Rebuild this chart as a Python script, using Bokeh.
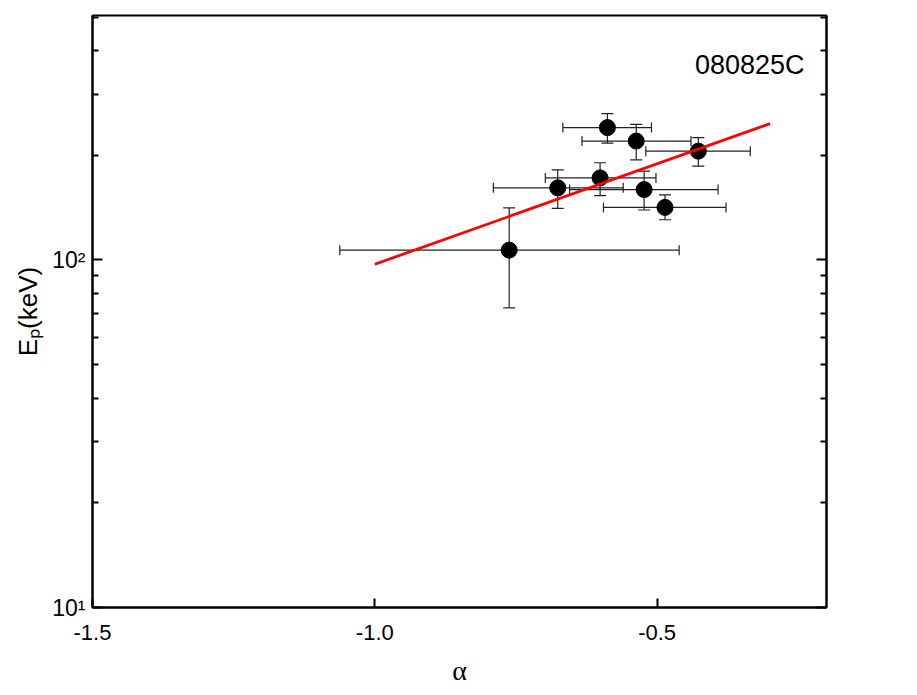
from bokeh.plotting import figure
from bokeh.models import (ColumnDataSource, Whisker, TeeHead, FixedTicker, LogAxis, Label, Range1d)
from bokeh.embed import file_html
from bokeh.resources import INLINE

# ---- data ----
alpha = [-0.762, -0.676, -0.601, -0.588, -0.537, -0.523, -0.486, -0.427]
alpha_lo = [-1.062, -0.790, -0.698, -0.667, -0.633, -0.655, -0.595, -0.520]
alpha_hi = [-0.461, -0.560, -0.502, -0.510, -0.440, -0.392, -0.378, -0.335]
ep = [106.7, 161.2, 172.2, 240.3, 219.8, 159.4, 141.6, 205.6]
ep_lo = [72.8, 140.7, 153.1, 216.9, 194.1, 139.2, 130.5, 186.1]
ep_hi = [141.1, 181.6, 190.4, 263.7, 245.5, 180.0, 153.8, 224.8]
fit_alpha = [-1.0, -0.3]
fit_ep = [97.2, 246.7]
x_ticks = [-1.5, -1.0, -0.5]
x_tick_labels = ["-1.5", "-1.0", "-0.5"]
y_ticks = [10, 100]
y_tick_labels = ["10\u00b9", "10\u00b2"]
y_minor = [20, 30, 40, 50, 60, 70, 80, 90, 200, 300, 400, 500]
grb_name = "080825C"
x_label = "\u03b1"
y_label = "E\u209a(keV)"

src = ColumnDataSource(dict(x=alpha, xlo=alpha_lo, xhi=alpha_hi, y=ep, ylo=ep_lo, yhi=ep_hi))

p = figure(width=886, height=691, y_axis_type="log",
           x_range=Range1d(-1.5, -0.2), y_range=Range1d(10, 505),
           output_backend="svg", toolbar_location=None,
           min_border_left=92, min_border_right=60, min_border_top=15, min_border_bottom=84)
p.background_fill_color = "white"
p.border_fill_color = "white"
p.grid.visible = False
p.outline_line_color = "black"
p.outline_line_width = 2

FONT = "Liberation Sans"

# x axis
xa = p.xaxis[0]
xa.ticker = FixedTicker(ticks=x_ticks, minor_ticks=[])
xa.major_label_overrides = {t: l for t, l in zip(x_ticks, x_tick_labels)}
xa.major_tick_in = 9
xa.major_tick_out = 0
xa.minor_tick_in = 0
xa.minor_tick_out = 0
xa.axis_line_width = 2
xa.major_tick_line_width = 2
xa.major_label_text_font = FONT
xa.major_label_text_font_size = "22px"
xa.major_label_text_color = "black"
xa.major_label_standoff = 17
xa.axis_label = x_label
xa.axis_label_text_font = "Liberation Serif"
xa.axis_label_text_font_size = "28px"
xa.axis_label_text_font_style = "normal"
xa.axis_label_text_color = "black"
xa.axis_label_standoff = 12

# y axis (left)
ya = p.yaxis[0]
ya.ticker = FixedTicker(ticks=y_ticks, minor_ticks=y_minor)
ya.major_label_overrides = {t: l for t, l in zip(y_ticks, y_tick_labels)}
ya.major_tick_in = 10
ya.major_tick_out = 0
ya.minor_tick_in = 6
ya.minor_tick_out = 0
ya.axis_line_width = 2
ya.major_tick_line_width = 2
ya.minor_tick_line_width = 2
ya.major_label_text_font = FONT
ya.major_label_text_font_size = "23px"
ya.major_label_text_color = "black"
ya.major_label_standoff = 7
ya.axis_label = y_label
ya.axis_label_text_font = FONT
ya.axis_label_text_font_size = "26px"
ya.axis_label_text_font_style = "normal"
ya.axis_label_text_color = "black"
ya.axis_label_standoff = 6

# y axis (right) - ticks only
ra = LogAxis(ticker=FixedTicker(ticks=y_ticks, minor_ticks=y_minor))
ra.major_label_text_alpha = 0
ra.major_label_text_font_size = "1px"
ra.major_tick_in = 10
ra.major_tick_out = 0
ra.minor_tick_in = 6
ra.minor_tick_out = 0
ra.axis_line_width = 2
ra.major_tick_line_width = 2
ra.minor_tick_line_width = 2
p.add_layout(ra, "right")

# error bars
ec = "#222222"
p.add_layout(Whisker(source=src, base="y", lower="xlo", upper="xhi", dimension="width",
                     line_color=ec, line_width=1.2,
                     upper_head=TeeHead(size=10, line_color=ec, line_width=1.2),
                     lower_head=TeeHead(size=10, line_color=ec, line_width=1.2)))
p.add_layout(Whisker(source=src, base="x", lower="ylo", upper="yhi", dimension="height",
                     line_color=ec, line_width=1.2,
                     upper_head=TeeHead(size=12, line_color=ec, line_width=1.2),
                     lower_head=TeeHead(size=12, line_color=ec, line_width=1.2)))

p.scatter("x", "y", source=src, size=16, color="black")
p.line(fit_alpha, fit_ep, line_color="#ff0000", line_width=2.8)

p.add_layout(Label(x=712, y=543, x_units="screen", y_units="screen", text=grb_name,
                   text_font=FONT, text_font_size="27px", text_color="black",
                   text_align="right", text_baseline="alphabetic"))

open("out.html", "w").write(file_html(p, INLINE))
